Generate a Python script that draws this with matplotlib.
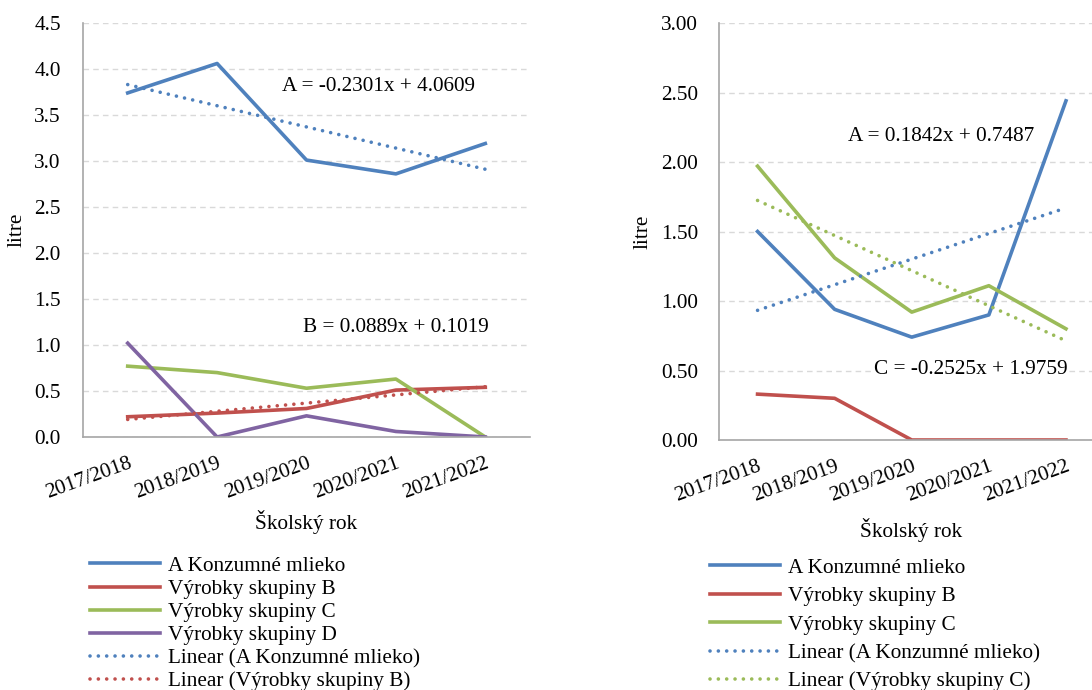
import numpy as np
import matplotlib
matplotlib.use("Agg")
import matplotlib.pyplot as plt

plt.rcParams['font.family'] = ['Liberation Serif', 'DejaVu Serif']

# --- data ---------------------------------------------------------------
years = ['2017/2018', '2018/2019', '2019/2020', '2020/2021', '2021/2022']

# left chart
left_A = [3.74, 4.06, 3.01, 2.86, 3.19]
left_B = [0.22, 0.26, 0.31, 0.51, 0.54]
left_C = [0.77, 0.70, 0.53, 0.63, 0.00]
left_D = [1.02, 0.00, 0.23, 0.06, 0.00]
left_trend_A = (-0.2301, 4.0609)   # slope, intercept
left_trend_B = (0.0889, 0.1019)

# right chart
right_A = [1.50, 0.94, 0.74, 0.90, 2.44]
right_B = [0.33, 0.30, 0.00, 0.00, 0.00]
right_C = [1.97, 1.31, 0.92, 1.11, 0.80]
right_trend_A = (0.1842, 0.7487)
right_trend_C = (-0.2525, 1.9759)

names = ['A Konzumné mlieko', 'Výrobky skupiny B', 'Výrobky skupiny C', 'Výrobky skupiny D']

# --- style --------------------------------------------------------------
BLUE = '#4F81BD'
RED = '#C0504D'
GREEN = '#9BBB59'
PURPLE = '#8064A2'
W, H = 1092, 690
FS = 15.3
LW = 2.6


def box(l, r, t, b):
    return [l / W, (H - b) / H, (r - l) / W, (b - t) / H]


def trend(coef, n):
    x = np.arange(1, n + 1)
    return coef[0] * x + coef[1]


def style_axes(ax, ymax, step, fmt, xmax):
    ax.set_xlim(-0.5, xmax)
    ax.set_ylim(0, ymax)
    ax.set_yticks(np.arange(0, ymax + step / 2, step))
    ax.set_yticklabels([fmt.format(v) for v in np.arange(0, ymax + step / 2, step)], fontsize=FS)
    ax.set_xticks(range(len(years)))
    ax.set_xticklabels(years, fontsize=FS, rotation=20, ha='right', va='top',
                       rotation_mode='anchor')
    ax.tick_params(axis='both', length=0)
    ax.tick_params(axis='y', pad=16)
    ax.tick_params(axis='x', pad=12)
    ax.grid(axis='y', color='#D9D9D9', linestyle=(0, (4, 3)), linewidth=1)
    ax.set_axisbelow(True)
    for s in ['top', 'right']:
        ax.spines[s].set_visible(False)
    for s in ['left', 'bottom']:
        ax.spines[s].set_color('#A6A6A6')
        ax.spines[s].set_linewidth(1.2)


dots = (0, (0.01, 2.3))

fig = plt.figure(figsize=(W / 100, H / 100), dpi=100)

# --- left chart ---------------------------------------------------------
ax1 = fig.add_axes(box(83, 530, 23, 437))
x = np.arange(len(years))
h = []
h += ax1.plot(x, left_A, color=BLUE, lw=LW, label=names[0])
h += ax1.plot(x, left_B, color=RED, lw=LW, label=names[1])
h += ax1.plot(x, left_C, color=GREEN, lw=LW, label=names[2])
h += ax1.plot(x, left_D, color=PURPLE, lw=LW, label=names[3])
h += ax1.plot(x, trend(left_trend_A, 5), color=BLUE, lw=LW, ls=dots,
              dash_capstyle='round', label='Linear (A Konzumné mlieko)')
h += ax1.plot(x, trend(left_trend_B, 5), color=RED, lw=LW, ls=dots,
              dash_capstyle='round', label='Linear (Výrobky skupiny B)')
style_axes(ax1, 4.5, 0.5, '{:.1f}', 4.5)
ax1.set_ylabel('litre', fontsize=FS)
ax1.yaxis.set_label_coords(-(83 - 27) / (530 - 83), 0.5)
ax1.set_xlabel('Školský rok', fontsize=FS)
ax1.xaxis.set_label_coords((306 - 83) / (530 - 83), -(522 - 437) / (437 - 23))
ax1.xaxis.label.set_va('center')
ax1.text(2.81, 3.815, 'A = -0.2301x + 4.0609', fontsize=FS, ha='center', va='center')
ax1.text(3.0, 1.185, 'B = 0.0889x + 0.1019', fontsize=FS, ha='center', va='center')
fig.legend(handles=h, loc='upper left', bbox_to_anchor=(90 / W, 1 - 556 / H),
           frameon=False, fontsize=FS, handlelength=3.3, handletextpad=0.35,
           labelspacing=0.15, borderaxespad=0, borderpad=0)

# --- right chart --------------------------------------------------------
ax2 = fig.add_axes(box(719, 1092, 23, 440))
h2 = []
h2 += ax2.plot(x, right_A, color=BLUE, lw=LW, label=names[0])
h2 += ax2.plot(x, right_B, color=RED, lw=LW, label=names[1])
h2 += ax2.plot(x, right_C, color=GREEN, lw=LW, label=names[2])
h2 += ax2.plot(x, trend(right_trend_A, 5), color=BLUE, lw=LW, ls=dots,
               dash_capstyle='round', label='Linear (A Konzumné mlieko)')
h2 += ax2.plot(x, trend(right_trend_C, 5), color=GREEN, lw=LW, ls=dots,
               dash_capstyle='round', label='Linear (Výrobky skupiny C)')
style_axes(ax2, 3.0, 0.5, '{:.2f}', 4 + 26 / 77)
ax2.tick_params(axis='y', pad=15)
ax2.set_ylabel('litre', fontsize=FS)
ax2.yaxis.set_label_coords(-(719 - 653) / (1092 - 719), 0.5)
ax2.set_xlabel('Školský rok', fontsize=FS)
ax2.xaxis.set_label_coords((911 - 719) / (1092 - 719), -(530 - 440) / (440 - 23))
ax2.xaxis.label.set_va('center')
ax2.text(2.38, 2.18, 'A = 0.1842x + 0.7487', fontsize=FS, ha='center', va='center')
ax2.text(2.77, 0.51, 'C = -0.2525x + 1.9759', fontsize=FS, ha='center', va='center',
         bbox=dict(facecolor='white', edgecolor='none', pad=1))
fig.legend(handles=h2, loc='upper left', bbox_to_anchor=(710 / W, 1 - 558 / H),
           frameon=False, fontsize=FS, handlelength=3.3, handletextpad=0.35,
           labelspacing=0.4, borderaxespad=0, borderpad=0)

fig.savefig('out.png', dpi=100)
